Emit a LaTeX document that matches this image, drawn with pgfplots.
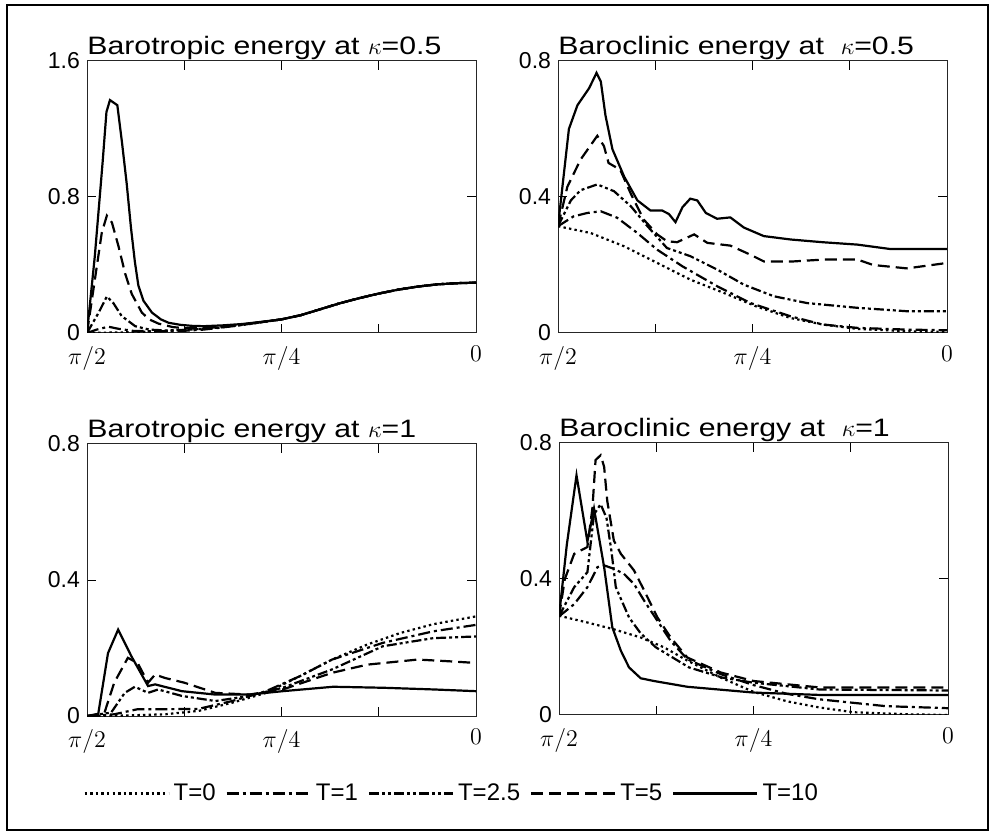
\documentclass[border=0pt]{standalone}
\usepackage{fontspec}
\setmainfont{Liberation Sans}
\newfontfamily\titlefam[FakeStretch=1.2]{Liberation Sans}
\usepackage{pgfplots}
\pgfplotsset{compat=1.18}
\pgfplotsset{
  panel/.style={scale only axis, width=194.5pt, height=136pt,
    xmin=0, xmax=100, ymin=0,
    xtick={0,25,50,75,100}, xticklabels={$\pi/2$,,$\pi/4$,,$0$},
    tick align=inside, major tick length=4.5pt,
    axis line style={line width=0.5pt, black!85},
    tick style={black, line width=0.5pt},
    tick label style={font=\fontsize{11.5}{13}\selectfont},
    xticklabel style={yshift=-3pt},
    every axis title shift=0pt,
    title style={at={(0,1)}, anchor=base west, yshift=3pt, inner sep=0pt,
      font=\titlefam\fontsize{12.6}{14}\selectfont},
    every axis plot/.append style={line width=1.1pt, black},
    legend image code/.code={\draw[#1] (0pt,0pt) -- (42pt,0pt);},
  },
  t0/.style={dash pattern=on 1.2pt off 1.6pt},
  t1/.style={dash pattern=on 6pt off 2pt on 1.5pt off 2pt},
  t25/.style={dash pattern=on 5pt off 1.5pt on 1.5pt off 1.5pt on 1.5pt off 1.5pt},
  t5/.style={dash pattern=on 6pt off 3pt},
  t10/.style={solid},
}
\begin{document}
\begin{tikzpicture}
\path (0pt,0pt) rectangle (497pt,417pt);
\draw[line width=0.9pt] (3.5pt,2pt) rectangle (494pt,414.5pt);

% ---------- top-left ----------
\begin{axis}[panel, at={(43.5pt,250.5pt)}, anchor=south west, ymax=1.6,
  ytick={0,0.8,1.6}, yticklabels={0,0.8,1.6},
  title={Barotropic energy at $\kappa$=0.5}]
\addplot[t0] coordinates {(0,0) (5,0.002) (10,0.004) (15,0.007) (20,0.012) (25,0.018) (30,0.025) (35,0.034) (40,0.047) (45,0.063) (50,0.08) (55,0.105) (60,0.14) (65,0.175) (70,0.205) (75,0.232) (80,0.255) (85,0.273) (90,0.286) (95,0.293) (100,0.296)};
\addplot[t1] coordinates {(0,0) (2.5,0.02) (5.5,0.037) (8,0.025) (12,0.012) (18,0.01) (25,0.013) (30,0.02) (35,0.033) (40,0.048) (45,0.064) (50,0.08) (55,0.105) (60,0.14) (65,0.175) (70,0.205) (75,0.232) (80,0.255) (85,0.273) (90,0.286) (95,0.293) (100,0.296)};
\addplot[t25] coordinates {(0,0) (3,0.12) (5.1,0.215) (6.8,0.175) (8.9,0.1) (12.4,0.04) (16,0.02) (20,0.015) (25,0.018) (30,0.025) (35,0.035) (40,0.05) (45,0.065) (50,0.08) (55,0.105) (60,0.14) (65,0.175) (70,0.205) (75,0.232) (80,0.255) (85,0.273) (90,0.286) (95,0.293) (100,0.296)};
\addplot[t5] coordinates {(0,0) (3.8,0.59) (5.1,0.69) (6.4,0.65) (8.1,0.51) (9.8,0.35) (11.5,0.23) (14.1,0.12) (16,0.08) (18.4,0.055) (22,0.035) (25,0.028) (30,0.028) (35,0.037) (40,0.05) (45,0.065) (50,0.08) (55,0.105) (60,0.14) (65,0.175) (70,0.205) (75,0.232) (80,0.255) (85,0.273) (90,0.286) (95,0.293) (100,0.296)};
\addplot[t10] coordinates {(0,0) (2,0.45) (4,1.0) (5,1.3) (5.9,1.37) (7.8,1.34) (9,1.12) (10.2,0.88) (11.3,0.62) (12.3,0.42) (13.2,0.28) (14.5,0.19) (16.7,0.12) (19,0.08) (21,0.06) (24,0.048) (27,0.042) (30,0.04) (35,0.045) (40,0.053) (45,0.066) (50,0.08) (55,0.105) (60,0.14) (65,0.175) (70,0.205) (75,0.232) (80,0.255) (85,0.273) (90,0.286) (95,0.293) (100,0.296)};
\end{axis}

% ---------- top-right ----------
\begin{axis}[panel, at={(279pt,250.5pt)}, anchor=south west, ymax=0.8,
  ytick={0,0.4,0.8}, yticklabels={0,0.4,0.8},
  title={Baroclinic energy at\ \ $\kappa$=0.5}]
\addplot[t0] coordinates {(0,0.314) (8.4,0.294) (17,0.255) (25.5,0.206) (34,0.157) (42.6,0.118) (51,0.078) (59.8,0.044) (68,0.025) (77,0.012) (89.7,0.005) (100,0.003)};
\addplot[t1] coordinates {(0,0.314) (4,0.343) (7.5,0.353) (11,0.358) (15.2,0.339) (20.4,0.294) (25.5,0.245) (32,0.196) (41,0.137) (49.5,0.088) (59.8,0.049) (68,0.025) (77,0.015) (89.7,0.01) (100,0.008)};
\addplot[t25] coordinates {(0,0.314) (3.3,0.39) (5.8,0.42) (10.1,0.437) (14.4,0.417) (18.7,0.373) (23,0.314) (28,0.25) (34,0.226) (41,0.186) (47.8,0.142) (55.5,0.108) (64,0.088) (77,0.074) (89.7,0.064) (100,0.064)};
\addplot[t5] coordinates {(0,0.314) (2.4,0.43) (5.8,0.51) (10.1,0.58) (11.8,0.55) (13,0.5) (16,0.48) (18.7,0.41) (22,0.334) (25.5,0.29) (28,0.27) (30.6,0.267) (35,0.29) (38.4,0.265) (44.3,0.257) (49.5,0.23) (53,0.21) (59.8,0.21) (68.3,0.216) (77,0.216) (81,0.2) (89.7,0.19) (100,0.206)};
\addplot[t10] coordinates {(0,0.314) (2.8,0.6) (5,0.67) (8,0.72) (9.9,0.765) (11,0.74) (12.2,0.64) (14,0.54) (17,0.46) (20.4,0.39) (23.8,0.36) (26.8,0.36) (28.5,0.35) (30.2,0.326) (32,0.37) (34,0.395) (35.8,0.39) (38,0.353) (40.9,0.336) (44.3,0.34) (47.8,0.31) (52.9,0.285) (59.8,0.275) (68,0.267) (76.9,0.26) (85.4,0.247) (100,0.247)};
\end{axis}

% ---------- bottom-left ----------
\begin{axis}[panel, at={(43.5pt,59pt)}, anchor=south west, ymax=0.8,
  ytick={0,0.4,0.8}, yticklabels={0,0.4,0.8},
  title={Barotropic energy at $\kappa$=1},
  legend columns=5,
  legend style={at={(0.94,-0.285)}, anchor=center, draw=none, fill=none,
    font=\fontsize{12}{14}\selectfont,
    /tikz/every even column/.append style={column sep=3pt}},
  legend cell align=left]
\addplot[t0] coordinates {(0,0) (11.4,0.002) (20,0.005) (28.7,0.015) (37.3,0.039) (46,0.068) (54.7,0.117) (63,0.166) (72,0.21) (80.5,0.244) (89,0.27) (100,0.293)};
\addlegendentry{T=0}
\addplot[t1] coordinates {(0,0) (7,0.005) (13,0.02) (20,0.02) (28.7,0.021) (37.3,0.044) (46,0.073) (54.7,0.117) (63,0.166) (76,0.215) (89,0.249) (100,0.268)};
\addlegendentry{T=1}
\addplot[t25] coordinates {(0,0) (6.2,0.01) (9.7,0.068) (12.3,0.086) (15.7,0.068) (18.3,0.078) (24.4,0.059) (33,0.044) (41.7,0.059) (50.3,0.083) (63,0.137) (76,0.205) (89,0.229) (100,0.234)};
\addlegendentry{T=2.5}
\addplot[t5] coordinates {(0,0) (4.5,0.01) (7,0.098) (10.5,0.171) (13,0.156) (15.7,0.098) (17.5,0.122) (20,0.112) (25,0.098) (33,0.068) (41.7,0.063) (50.3,0.078) (63,0.127) (72,0.151) (85,0.166) (93,0.161) (100,0.156)};
\addlegendentry{T=5}
\addplot[t10] coordinates {(0,0) (2.8,0) (5.4,0.185) (8,0.254) (11.4,0.176) (15.7,0.088) (17.5,0.093) (24.4,0.073) (33,0.063) (41.7,0.063) (50.3,0.073) (63.3,0.086) (76.3,0.083) (89.3,0.078) (100,0.073)};
\addlegendentry{T=10}
\end{axis}

% ---------- bottom-right ----------
\begin{axis}[panel, at={(279.5pt,59.5pt)}, anchor=south west, ymax=0.8,
  ytick={0,0.4,0.8}, yticklabels={0,0.4,0.8},
  title={Baroclinic energy at\ \ $\kappa$=1}]
\addplot[t0] coordinates {(0,0.292) (7.3,0.272) (14.1,0.252) (21,0.228) (27,0.199) (33,0.16) (41.6,0.11) (50,0.068) (58.7,0.04) (67,0.022) (75.8,0.008) (90,0.002) (100,0.0)};
\addplot[t1] coordinates {(0,0.29) (3.9,0.326) (7.3,0.376) (9.9,0.435) (11.6,0.44) (14.1,0.43) (16.7,0.415) (19.3,0.385) (21.9,0.336) (25.3,0.277) (28.7,0.218) (33,0.164) (41.6,0.12) (50,0.088) (58.7,0.062) (67,0.046) (84,0.026) (100,0.02)};
\addplot[t25] coordinates {(0,0.29) (3.9,0.376) (7.3,0.42) (9,0.59) (10.7,0.62) (12.2,0.58) (13.5,0.48) (14.6,0.376) (18,0.287) (21,0.24) (24.9,0.199) (33.4,0.14) (42,0.11) (50,0.095) (67,0.075) (100,0.072)};
\addplot[t5] coordinates {(0,0.29) (1.5,0.4) (3.9,0.474) (7.3,0.494) (8.6,0.61) (9.4,0.75) (10.7,0.764) (11.6,0.73) (12.4,0.63) (14.1,0.513) (15.9,0.474) (19.3,0.425) (21.9,0.366) (25.3,0.287) (28.7,0.228) (33,0.169) (41.6,0.125) (50,0.1) (67,0.081) (100,0.081)};
\addplot[t10] coordinates {(0,0.29) (2,0.5) (4.5,0.705) (7.3,0.51) (9,0.607) (11.6,0.435) (13.7,0.258) (15.9,0.189) (18,0.14) (21,0.108) (24.4,0.1) (33,0.083) (50,0.066) (67,0.059) (100,0.059)};
\end{axis}
\end{tikzpicture}
\end{document}
